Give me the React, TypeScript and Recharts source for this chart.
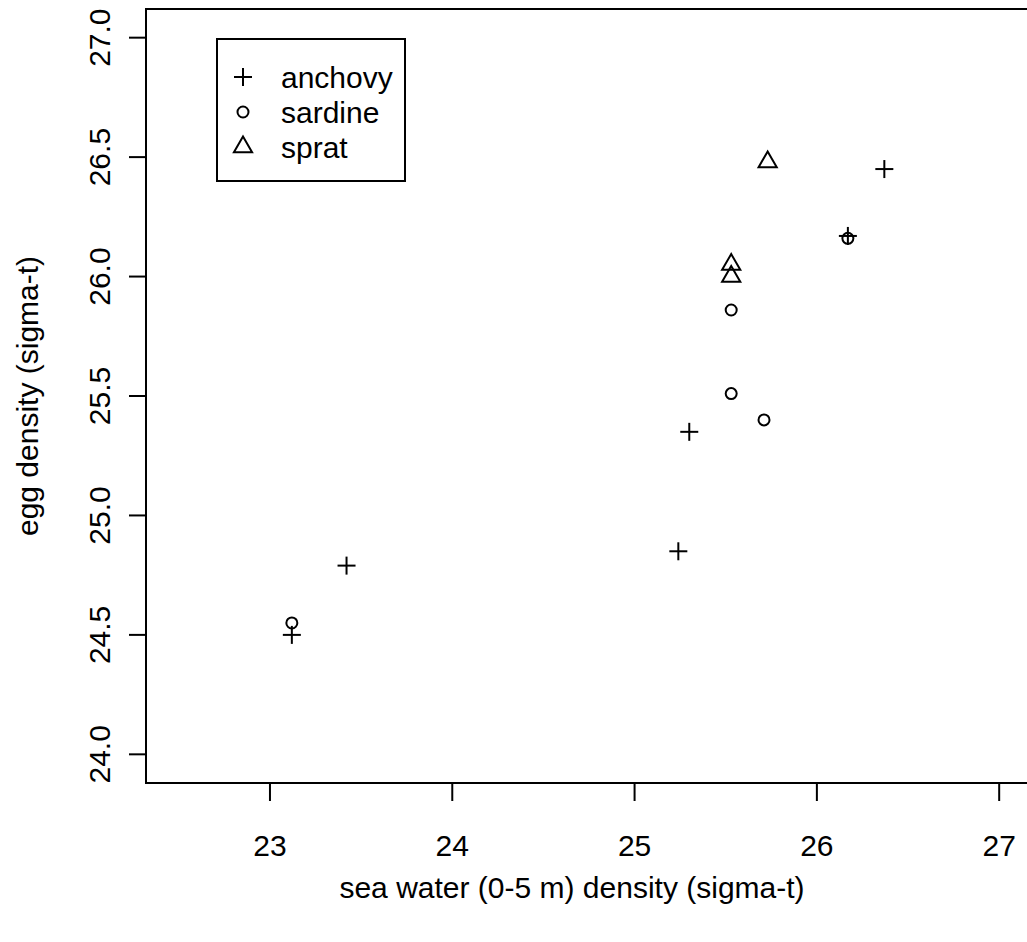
import { ScatterChart, Scatter, XAxis, YAxis, ReferenceArea } from 'recharts'

const xTicks = [23, 24, 25, 26, 27]
const yTicks = [24, 24.5, 25, 25.5, 26, 26.5, 27]

const anchovyX = [23.12, 23.42, 25.24, 25.3, 26.17, 26.37]
const anchovyY = [24.5, 24.79, 24.85, 25.35, 26.17, 26.45]

const sardineX = [23.12, 25.53, 25.53, 25.71, 26.17]
const sardineY = [24.55, 25.86, 25.51, 25.4, 26.16]

const spratX = [25.73, 25.53, 25.53]
const spratY = [26.48, 26.05, 26.0]

const xDomain = [22.32, 27.18]
const yDomain = [23.88, 27.12]

const FONT = '"Liberation Sans", Arial, sans-serif'
const FS = 30

const toPoints = (xs: number[], ys: number[]) => xs.map((x, i) => ({ x, y: ys[i] }))

const Plus = ({ cx, cy }: any) => (
  <g stroke="#000" strokeWidth={2}>
    <line x1={cx - 9} y1={cy} x2={cx + 9} y2={cy} />
    <line x1={cx} y1={cy - 9} x2={cx} y2={cy + 9} />
  </g>
)

const Ring = ({ cx, cy }: any) => (
  <circle cx={cx} cy={cy} r={5.5} fill="none" stroke="#000" strokeWidth={2} />
)

const Tri = ({ cx, cy }: any) => {
  const r = 10.5
  const h = 0.866 * r
  return (
    <polygon
      points={`${cx},${cy - r} ${cx + h},${cy + r / 2} ${cx - h},${cy + r / 2}`}
      fill="none"
      stroke="#000"
      strokeWidth={2}
    />
  )
}

const XTick = ({ x, y, payload }: any) => (
  <text x={x} y={y + 53} textAnchor="middle" fontSize={FS} fontFamily={FONT} fill="#000">
    {payload.value}
  </text>
)

const YTick = ({ y, payload }: any) => (
  <text
    x={110}
    y={y}
    transform={`rotate(-90, 110, ${y})`}
    textAnchor="middle"
    fontSize={FS}
    fontFamily={FONT}
    fill="#000"
  >
    {Number(payload.value).toFixed(1)}
  </text>
)

const legendRows = [
  { label: 'anchovy', Shape: Plus },
  { label: 'sardine', Shape: Ring },
  { label: 'sprat', Shape: Tri },
]

export default function App() {
  return (
    <div
      style={{
        position: 'absolute',
        left: 0,
        top: 0,
        width: 1027,
        height: 942,
        overflow: 'hidden',
        background: '#fff',
        fontFamily: FONT,
      }}
    >
      <ScatterChart width={1100} height={942} margin={{ top: 9, right: 68, bottom: 0, left: 0 }}>
        <XAxis
          type="number"
          dataKey="x"
          domain={xDomain}
          ticks={xTicks}
          allowDataOverflow
          axisLine={false}
          tickLine={{ stroke: '#000', strokeWidth: 2 }}
          tickSize={18}
          height={159}
          tick={<XTick />}
          label={{
            content: () => (
              <text x={572} y={898} textAnchor="middle" fontSize={FS} fontFamily={FONT} fill="#000">
                sea water (0-5 m) density (sigma-t)
              </text>
            ),
          }}
        />
        <YAxis
          type="number"
          dataKey="y"
          domain={yDomain}
          ticks={yTicks}
          allowDataOverflow
          axisLine={false}
          tickLine={{ stroke: '#000', strokeWidth: 2 }}
          tickSize={17}
          width={146}
          tick={<YTick />}
          label={{
            content: ({ viewBox }: any) => {
              const cy = viewBox.y + viewBox.height / 2
              return (
                <text
                  x={38}
                  y={cy}
                  transform={`rotate(-90, 38, ${cy})`}
                  textAnchor="middle"
                  fontSize={FS}
                  fontFamily={FONT}
                  fill="#000"
                >
                  egg density (sigma-t)
                </text>
              )
            },
          }}
        />
        <ReferenceArea
          x1={xDomain[0]}
          x2={xDomain[1]}
          y1={yDomain[0]}
          y2={yDomain[1]}
          fill="none"
          fillOpacity={0}
          stroke="#000"
          strokeWidth={2}
        />
        <Scatter data={toPoints(anchovyX, anchovyY)} shape={<Plus />} isAnimationActive={false} />
        <Scatter data={toPoints(sardineX, sardineY)} shape={<Ring />} isAnimationActive={false} />
        <Scatter data={toPoints(spratX, spratY)} shape={<Tri />} isAnimationActive={false} />
      </ScatterChart>
      <div
        style={{
          position: 'absolute',
          left: 216,
          top: 38,
          width: 186,
          height: 140,
          border: '2px solid #000',
          background: '#fff',
        }}
      >
        {legendRows.map(({ label, Shape }, i) => (
          <div
            key={label}
            style={{ position: 'absolute', left: 0, top: 20 + i * 35, height: 35, width: 186 }}
          >
            <svg width={50} height={35} style={{ position: 'absolute', left: 0, top: 0 }}>
              <Shape cx={25} cy={17} />
            </svg>
            <span
              style={{
                position: 'absolute',
                left: 63,
                top: 0,
                lineHeight: '35px',
                fontSize: FS,
                color: '#000',
              }}
            >
              {label}
            </span>
          </div>
        ))}
      </div>
    </div>
  )
}
